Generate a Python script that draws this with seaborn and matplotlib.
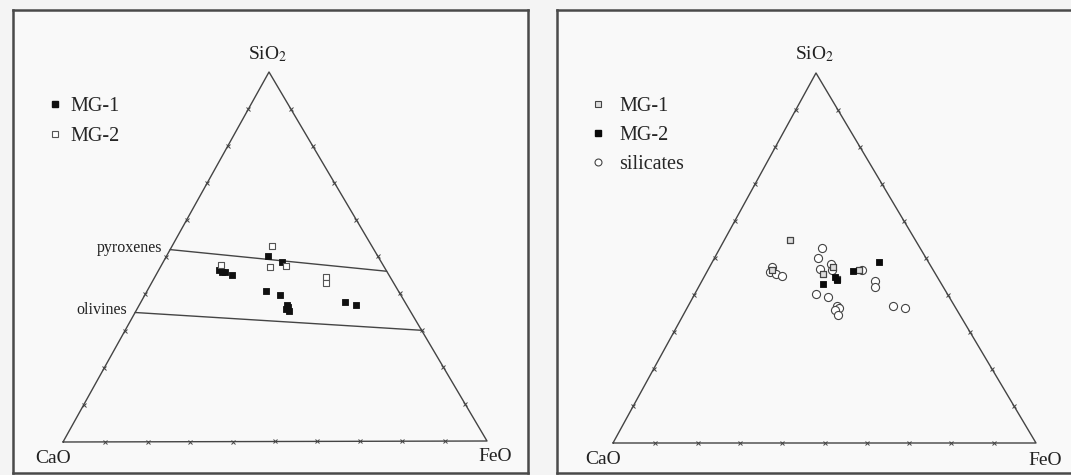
import numpy as np
import pandas as pd
import matplotlib
matplotlib.use("Agg")
import matplotlib.pyplot as plt
import seaborn as sns
from matplotlib.lines import Line2D

# ---------------- data (weight %, SiO2 / FeO; CaO = remainder) ----------------
left_mg1_sio2 = [50.3, 48.6, 46.5, 46.0, 45.8, 45.1, 40.6, 39.7, 37.0, 36.4, 35.9, 35.2, 37.6, 36.8]
left_mg1_feo = [23.8, 28.0, 14.3, 15.1, 16.0, 17.9, 28.1, 31.9, 34.8, 35.4, 35.2, 36.2, 48.2, 51.2]
left_mg2_sio2 = [53.0, 47.8, 47.1, 47.4, 44.5, 42.9]
left_mg2_feo = [23.6, 14.0, 25.9, 29.6, 40.3, 41.1]

right_mg1_sio2 = [54.9, 46.8, 47.6, 45.6, 46.8, 44.2]
right_mg1_feo = [15.5, 15.1, 29.2, 27.7, 35.6, 31.7]
right_mg2_sio2 = [49.0, 43.0, 46.5, 44.8, 44.1]
right_mg2_feo = [39.4, 29.0, 34.5, 31.0, 31.9]
silicates_sio2 = [52.6, 49.9, 47.7, 46.3, 45.7, 45.1, 46.9, 48.4, 46.8, 46.8,
                  43.9, 42.2, 40.3, 39.4, 37.0, 36.6, 35.9, 34.6, 37.0, 36.4]
silicates_feo = [24.1, 24.4, 14.7, 14.9, 16.6, 18.2, 26.4, 28.3, 29.3, 36.4,
                 40.9, 41.7, 28.7, 32.0, 35.1, 35.9, 35.3, 36.7, 48.5, 51.6]

# boundary lines (SiO2 on CaO side, SiO2 on FeO side)
field_names = ["pyroxenes", "olivines"]
field_sio2_cao_side = [52.0, 35.0]
field_sio2_feo_side = [46.0, 30.0]

apex_labels = ["SiO$_2$", "CaO", "FeO"]
tick_fracs = [i / 10 for i in range(1, 10)]

# ---------------- layout ----------------
W, H = 1071, 475
sns.set_theme(style="white")
plt.rcParams["font.family"] = ["Liberation Serif", "DejaVu Serif"]
plt.rcParams["mathtext.fontset"] = "stix"

fig = plt.figure(figsize=(W / 100, H / 100), dpi=100, facecolor="#f4f4f4")


def make_ax(x0, y0, x1, y1):
    ax = fig.add_axes([x0 / W, 1 - y1 / H, (x1 - x0) / W, (y1 - y0) / H])
    ax.set_xlim(x0, x1)
    ax.set_ylim(y1, y0)
    ax.set_xticks([])
    ax.set_yticks([])
    ax.set_facecolor("#f9f9f9")
    for s in ax.spines.values():
        s.set_color("#4a4a4a")
        s.set_linewidth(1.8)
    return ax


def tern(C, F, S, sio2, feo):
    s = np.asarray(sio2, float) / 100.0
    f = np.asarray(feo, float) / 100.0
    C, F, S = map(np.asarray, (C, F, S))
    x = C[0] + f * (F[0] - C[0]) + s * (S[0] - C[0])
    y = C[1] + f * (F[1] - C[1]) + s * (S[1] - C[1])
    return x, y


def draw_triangle(ax, C, F, S):
    xs = [C[0], F[0], S[0], C[0]]
    ys = [C[1], F[1], S[1], C[1]]
    ax.plot(xs, ys, color="#444444", lw=1.0, zorder=2)
    # small ticks every 10 %
    fr = np.array(tick_fracs)
    for P, Q in [(C, F), (C, S), (F, S)]:
        tx = P[0] + fr * (Q[0] - P[0])
        ty = P[1] + fr * (Q[1] - P[1])
        ax.plot(tx, ty, ls="none", marker="x", ms=3.5, mew=0.7, color="#444444", zorder=2)


def draw_labels(ax, pos_sio2, pos_cao, pos_feo):
    for lab, p in zip(apex_labels, [pos_sio2, pos_cao, pos_feo]):
        ax.text(p[0], p[1], lab, ha="center", va="center", fontsize=14, color="#222222")


# ---------------- left panel ----------------
axL = make_ax(13, 10, 528, 473)
CL, FL, SL = (63, 442), (487, 441), (269, 72)
draw_triangle(axL, CL, FL, SL)
draw_labels(axL, (268, 54), (53, 459), (495, 457))

for name, s1, s2 in zip(field_names, field_sio2_cao_side, field_sio2_feo_side):
    x1, y1 = tern(CL, FL, SL, [s1], [0.0])
    x2, y2 = tern(CL, FL, SL, [s2], [100.0 - s2])
    axL.plot([x1[0], x2[0]], [y1[0], y2[0]], color="#444444", lw=1.0, zorder=2)
    axL.text(x1[0] - 8, y1[0] - 2, name, ha="right", va="center", fontsize=11.5, color="#222222")

lx1, ly1 = tern(CL, FL, SL, left_mg1_sio2, left_mg1_feo)
lx2, ly2 = tern(CL, FL, SL, left_mg2_sio2, left_mg2_feo)
dfL = pd.DataFrame({
    "x": np.concatenate([lx1, lx2]),
    "y": np.concatenate([ly1, ly2]),
    "group": ["MG-1"] * len(lx1) + ["MG-2"] * len(lx2),
})
sns.scatterplot(data=dfL[dfL.group == "MG-1"], x="x", y="y", ax=axL, marker="s",
                s=16, color="#111111", edgecolor="#111111", linewidth=0.6, legend=False, zorder=3)
sns.scatterplot(data=dfL[dfL.group == "MG-2"], x="x", y="y", ax=axL, marker="s",
                s=16, color="white", edgecolor="#555555", linewidth=0.8, legend=False, zorder=3)
axL.set_xlabel("")
axL.set_ylabel("")
axL.set_xlim(13, 528)
axL.set_ylim(473, 10)

hL = [Line2D([], [], ls="none", marker="s", ms=4, mfc="#111111", mec="#111111"),
      Line2D([], [], ls="none", marker="s", ms=4, mfc="white", mec="#555555", mew=0.8)]
axL.legend(hL, ["MG-1", "MG-2"], loc="upper left", bbox_to_anchor=(0.07, 0.812),
           frameon=False, fontsize=14.5, handlelength=0.6, handletextpad=0.45,
           labelspacing=0.55, borderpad=0, borderaxespad=0)

# ---------------- right panel ----------------
axR = make_ax(557, 10, 1075, 473)
CR, FR, SR = (613, 443), (1036, 443), (816, 73)
draw_triangle(axR, CR, FR, SR)
draw_labels(axR, (815, 54), (603, 460), (1045, 461))

rx1, ry1 = tern(CR, FR, SR, right_mg1_sio2, right_mg1_feo)
rx2, ry2 = tern(CR, FR, SR, right_mg2_sio2, right_mg2_feo)
rx3, ry3 = tern(CR, FR, SR, silicates_sio2, silicates_feo)
dfR = pd.DataFrame({
    "x": np.concatenate([rx1, rx2, rx3]),
    "y": np.concatenate([ry1, ry2, ry3]),
    "group": ["MG-1"] * len(rx1) + ["MG-2"] * len(rx2) + ["silicates"] * len(rx3),
})
sns.scatterplot(data=dfR[dfR.group == "silicates"], x="x", y="y", ax=axR, marker="o",
                s=34, color="white", edgecolor="#444444", linewidth=0.8, legend=False, zorder=3)
sns.scatterplot(data=dfR[dfR.group == "MG-1"], x="x", y="y", ax=axR, marker="s",
                s=22, color="#dddddd", edgecolor="#444444", linewidth=0.9, legend=False, zorder=4)
sns.scatterplot(data=dfR[dfR.group == "MG-2"], x="x", y="y", ax=axR, marker="s",
                s=24, color="#0a0a0a", edgecolor="#0a0a0a", linewidth=0.6, legend=False, zorder=5)
axR.set_xlabel("")
axR.set_ylabel("")
axR.set_xlim(557, 1075)
axR.set_ylim(473, 10)

hR = [Line2D([], [], ls="none", marker="s", ms=4, mfc="#dddddd", mec="#444444", mew=0.8),
      Line2D([], [], ls="none", marker="s", ms=4.2, mfc="#0a0a0a", mec="#0a0a0a"),
      Line2D([], [], ls="none", marker="o", ms=5, mfc="white", mec="#444444", mew=0.8)]
axR.legend(hR, ["MG-1", "MG-2", "silicates"], loc="upper left", bbox_to_anchor=(0.068, 0.812),
           frameon=False, fontsize=14.5, handlelength=0.6, handletextpad=0.75,
           labelspacing=0.48, borderpad=0, borderaxespad=0)

fig.savefig("out.png", dpi=100, facecolor=fig.get_facecolor())
